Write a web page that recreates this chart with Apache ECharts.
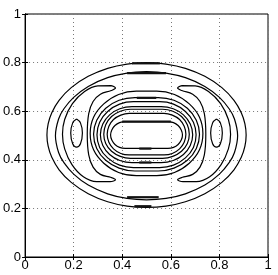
<!DOCTYPE html>
<html><head><meta charset="utf-8">
<script src="https://cdn.jsdelivr.net/npm/echarts@6/dist/echarts.min.js"></script>
<style>html,body{margin:0;padding:0;background:#fff}#c{width:278px;height:275px}</style>
</head><body><div id="c"></div>
<script>
// Tick labels
const xTicks = [0, 0.2, 0.4, 0.6, 0.8, 1];
const yTicks = [0, 0.2, 0.4, 0.6, 0.8, 1];

// Contour outlines (left halves: top-centre -> bottom-centre), mirrored about x = 0.5
const ellipse1 = [[0.5,0.8],[0.42,0.794],[0.34,0.7765],[0.26,0.7435],[0.19,0.697],[0.14,0.645],[0.11,0.594],[0.095,0.548],[0.09,0.502],[0.095,0.456],[0.11,0.41],[0.14,0.359],[0.19,0.307],[0.26,0.2605],[0.34,0.2275],[0.42,0.2095],[0.5,0.204]];
const ellipse2 = [[0.5,0.763],[0.42,0.757],[0.34,0.738],[0.26,0.702],[0.2,0.657],[0.16,0.61],[0.138,0.568],[0.125,0.499],[0.138,0.43],[0.16,0.388],[0.2,0.341],[0.26,0.296],[0.34,0.26],[0.42,0.241],[0.5,0.235]];
const stadium1 = [[0.5,0.683],[0.458,0.683],[0.385,0.669],[0.324,0.63],[0.282,0.575],[0.268,0.508],[0.282,0.441],[0.324,0.386],[0.385,0.348],[0.458,0.335],[0.5,0.335]];
const stadium2 = [[0.5,0.656],[0.452,0.656],[0.387,0.645],[0.332,0.612],[0.295,0.563],[0.282,0.505],[0.295,0.447],[0.332,0.398],[0.387,0.366],[0.452,0.354],[0.5,0.354]];
const stadium3 = [[0.5,0.639],[0.446,0.639],[0.389,0.629],[0.34,0.599],[0.307,0.555],[0.296,0.503],[0.307,0.451],[0.34,0.408],[0.389,0.378],[0.446,0.368],[0.5,0.368]];
const stadium4 = [[0.5,0.619],[0.44,0.619],[0.39,0.61],[0.348,0.585],[0.32,0.547],[0.31,0.503],[0.32,0.459],[0.348,0.422],[0.39,0.397],[0.44,0.388],[0.5,0.388]];
const stadium5 = [[0.5,0.608],[0.434,0.608],[0.392,0.6],[0.356,0.578],[0.332,0.544],[0.324,0.505],[0.332,0.467],[0.356,0.435],[0.392,0.414],[0.434,0.406],[0.5,0.406]];
const stadium6 = [[0.5,0.591],[0.428,0.591],[0.394,0.584],[0.364,0.566],[0.345,0.538],[0.338,0.505],[0.345,0.472],[0.364,0.445],[0.394,0.426],[0.428,0.42],[0.5,0.42]];
const stadium7 = [[0.5,0.557],[0.412,0.557],[0.389,0.553],[0.37,0.541],[0.357,0.523],[0.352,0.502],[0.357,0.481],[0.37,0.463],[0.389,0.451],[0.412,0.447],[0.5,0.447]];
// Closed side loops (left side), mirrored to the right side
const crescentLeft = [[0.355,0.705],[0.3,0.704],[0.245,0.681],[0.195,0.631],[0.163,0.566],[0.154,0.505],[0.163,0.445],[0.193,0.38],[0.24,0.33],[0.295,0.31],[0.35,0.31],[0.372,0.318],[0.355,0.327],[0.31,0.34],[0.28,0.37],[0.262,0.42],[0.256,0.505],[0.262,0.59],[0.28,0.64],[0.31,0.67],[0.355,0.685],[0.372,0.695],[0.355,0.705]];
const ovalLeft = [[0.212,0.568],[0.196,0.552],[0.188,0.51],[0.196,0.466],[0.212,0.452],[0.228,0.466],[0.236,0.51],[0.228,0.552],[0.212,0.568]];
// Thin near-degenerate contour slivers (drawn as short thick segments)
const slivers = [
  [[0.44,0.797],[0.555,0.797]],
  [[0.42,0.757],[0.58,0.757]],
  [[0.46,0.655],[0.54,0.655]],
  [[0.4,0.557],[0.6,0.557]],
  [[0.47,0.446],[0.52,0.446]],
  [[0.47,0.389],[0.52,0.389]],
  [[0.42,0.246],[0.55,0.246]],
  [[0.45,0.209],[0.52,0.209]]
];

function loopFromHalf(half) {
  const right = half.slice().reverse().map(p => [1 - p[0], p[1]]);
  return half.concat(right.slice(1));
}
function mirror(loop) { return loop.map(p => [1 - p[0], p[1]]); }

const halves = [ellipse1, ellipse2, stadium1, stadium2, stadium3, stadium4, stadium5, stadium6, stadium7];
const lineStyle = { color: '#000', width: 1.2 };
const series = [];
halves.forEach(h => series.push({ type: 'line', data: loopFromHalf(h), smooth: 0.4, symbol: 'none', lineStyle, silent: true }));
[crescentLeft, mirror(crescentLeft), ovalLeft, mirror(ovalLeft)].forEach(l =>
  series.push({ type: 'line', data: l, smooth: 0.4, symbol: 'none', lineStyle, silent: true }));
slivers.forEach(s => series.push({ type: 'line', data: s, symbol: 'none', lineStyle: { color: '#111', width: 2.2 }, silent: true }));

const chart = echarts.init(document.getElementById('c'), null, { renderer: 'canvas' });
const labelFont = { color: '#000', fontSize: 13, fontFamily: 'Liberation Sans, Arial, sans-serif' };
const fmt = v => String(Math.round(v * 10) / 10);
chart.setOption({
  animation: false,
  backgroundColor: '#fff',
  grid: { left: 24, right: 10, top: 14, bottom: 18, show: true, borderColor: '#000', borderWidth: 1, backgroundColor: 'transparent' },
  xAxis: [
    { type: 'value', min: xTicks[0], max: xTicks[xTicks.length - 1], interval: 0.2, position: 'bottom',
      axisLine: { show: true, lineStyle: { color: '#000' } },
      axisTick: { show: true, inside: true, length: 3, lineStyle: { color: '#000' } },
      axisLabel: Object.assign({ margin: 2, formatter: fmt }, labelFont),
      splitLine: { show: true, lineStyle: { color: '#777', type: [1, 3], width: 1 } } },
    { type: 'value', min: 0, max: 1, interval: 0.2, position: 'top',
      axisLine: { show: true, lineStyle: { color: '#000' } },
      axisTick: { show: true, inside: true, length: 3, lineStyle: { color: '#000' } },
      axisLabel: { show: false }, splitLine: { show: false } }
  ],
  yAxis: [
    { type: 'value', min: yTicks[0], max: yTicks[yTicks.length - 1], interval: 0.2, position: 'left',
      axisLine: { show: true, lineStyle: { color: '#000' } },
      axisTick: { show: true, inside: true, length: 3, lineStyle: { color: '#000' } },
      axisLabel: Object.assign({ margin: 4, formatter: fmt }, labelFont),
      splitLine: { show: true, lineStyle: { color: '#777', type: [1, 3], width: 1 } } },
    { type: 'value', min: 0, max: 1, interval: 0.2, position: 'right',
      axisLine: { show: true, lineStyle: { color: '#000' } },
      axisTick: { show: true, inside: true, length: 3, lineStyle: { color: '#000' } },
      axisLabel: { show: false }, splitLine: { show: false } }
  ],
  series: series
});
</script></body></html>
